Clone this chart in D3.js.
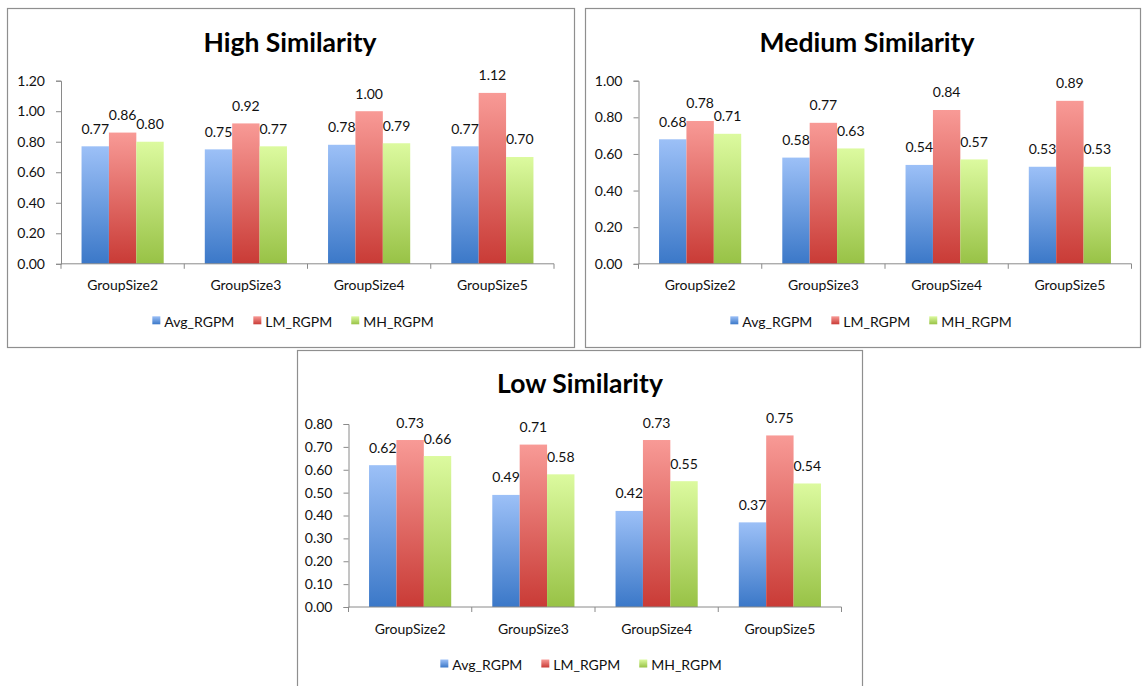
<!DOCTYPE html>
<html>
<head>
<meta charset="utf-8">
<script src="https://cdn.jsdelivr.net/npm/d3@7"></script>
<style>
  html, body { margin: 0; padding: 0; background: #ffffff; }
  svg { display: block; }
  text { font-family: Lato, "Open Sans", sans-serif; fill: #111; }
</style>
</head>
<body>
<svg id="chart" width="1148" height="686"></svg>
<script>
// ---------- data ----------
const categories = ["GroupSize2", "GroupSize3", "GroupSize4", "GroupSize5"];
const seriesNames = ["Avg_RGPM", "LM_RGPM", "MH_RGPM"];

const highAvg = [0.77, 0.75, 0.78, 0.77];
const highLM  = [0.86, 0.92, 1.00, 1.12];
const highMH  = [0.80, 0.77, 0.79, 0.70];

const mediumAvg = [0.68, 0.58, 0.54, 0.53];
const mediumLM  = [0.78, 0.77, 0.84, 0.89];
const mediumMH  = [0.71, 0.63, 0.57, 0.53];

const lowAvg = [0.62, 0.49, 0.42, 0.37];
const lowLM  = [0.73, 0.71, 0.73, 0.75];
const lowMH  = [0.66, 0.58, 0.55, 0.54];

const highTicks   = [0, 0.2, 0.4, 0.6, 0.8, 1.0, 1.2];
const mediumTicks = [0, 0.2, 0.4, 0.6, 0.8, 1.0];
const lowTicks    = [0, 0.1, 0.2, 0.3, 0.4, 0.5, 0.6, 0.7, 0.8];

const titles = ["High Similarity", "Medium Similarity", "Low Similarity"];

// ---------- layout / style ----------
const gradStops = [
  ["#9cc0f7", "#3b78c8"],
  ["#f89a96", "#c93b36"],
  ["#dcfa9f", "#98c246"]
];

const panels = [
  { title: titles[0], series: [highAvg, highLM, highMH], ticks: highTicks, yMax: 1.2,
    box: [7, 8, 574, 347], x0: 61, x1: 554, yTop: 80.7, yBot: 263.8,
    titleX: 290, titleY: 52, legendCX: 293 },
  { title: titles[1], series: [mediumAvg, mediumLM, mediumMH], ticks: mediumTicks, yMax: 1.0,
    box: [585, 8, 1140, 347], x0: 638.5, x1: 1131.5, yTop: 80.7, yBot: 263.8,
    titleX: 867, titleY: 52, legendCX: 871 },
  { title: titles[2], series: [lowAvg, lowLM, lowMH], ticks: lowTicks, yMax: 0.8,
    box: [297, 350, 862, 692], x0: 348.5, x1: 841.5, yTop: 424, yBot: 607,
    titleX: 580, titleY: 393, legendCX: 581 }
];

const svg = d3.select("#chart");
const defs = svg.append("defs");
gradStops.forEach((s, i) => {
  const g = defs.append("linearGradient").attr("id", "grad" + i)
    .attr("x1", 0).attr("y1", 0).attr("x2", 0).attr("y2", 1);
  g.append("stop").attr("offset", "0%").attr("stop-color", s[0]);
  g.append("stop").attr("offset", "100%").attr("stop-color", s[1]);
});

panels.forEach(p => {
  const g = svg.append("g");
  const [bx0, by0, bx1, by1] = p.box;
  g.append("rect").attr("x", bx0 + 0.5).attr("y", by0 + 0.5)
    .attr("width", bx1 - bx0).attr("height", by1 - by0)
    .attr("fill", "#fff").attr("stroke", "#8f8f8f").attr("stroke-width", 1.2);

  g.append("text").attr("x", p.titleX).attr("y", p.titleY)
    .attr("text-anchor", "middle").attr("font-weight", "bold")
    .attr("font-size", "26.5px").style("fill", "#000").text(p.title);

  const x = d3.scaleBand().domain(categories).range([p.x0, p.x1]).paddingInner(0).paddingOuter(0);
  const xs = d3.scaleBand().domain(seriesNames).range([0, x.bandwidth()]).paddingInner(0).paddingOuter(0.75);
  const y = d3.scaleLinear().domain([0, p.yMax]).range([p.yBot, p.yTop]);

  // y axis
  const yAxis = d3.axisLeft(y).tickValues(p.ticks).tickFormat(d3.format(".2f")).tickSize(5).tickPadding(11);
  const ya = g.append("g").attr("transform", `translate(${p.x0},0)`).call(yAxis);
  ya.select(".domain").attr("stroke", "#8a8a8a");
  ya.selectAll(".tick line").attr("stroke", "#8a8a8a");
  ya.selectAll(".tick text").attr("font-size", "14px").style("font-family", "Lato, sans-serif").style("fill", "#111");

  // bars
  seriesNames.forEach((s, si) => {
    g.append("g").selectAll("rect").data(categories).join("rect")
      .attr("x", c => x(c) + xs(s))
      .attr("y", (c, ci) => y(p.series[si][ci]))
      .attr("width", xs.bandwidth())
      .attr("height", (c, ci) => y(0) - y(p.series[si][ci]))
      .attr("fill", `url(#grad${si})`);
  });

  // x axis
  const xa = g.append("g").attr("transform", `translate(0,${p.yBot})`);
  xa.append("line").attr("x1", p.x0).attr("x2", p.x1).attr("y1", 0).attr("y2", 0).attr("stroke", "#8a8a8a");
  const bounds = categories.map(c => x(c)).concat([p.x1]);
  xa.selectAll("line.tk").data(bounds).join("line").attr("class", "tk")
    .attr("x1", d => d).attr("x2", d => d).attr("y1", 0).attr("y2", 5).attr("stroke", "#8a8a8a");
  xa.selectAll("text").data(categories).join("text")
    .attr("x", c => x(c) + x.bandwidth() / 2).attr("y", 26.5)
    .attr("text-anchor", "middle").attr("font-size", "14px").text(c => c);

  // data labels
  seriesNames.forEach((s, si) => {
    g.append("g").selectAll("text").data(categories).join("text")
      .attr("x", c => x(c) + xs(s) + xs.bandwidth() / 2)
      .attr("y", (c, ci) => y(p.series[si][ci]) - 12.5)
      .attr("text-anchor", "middle").attr("font-size", "14px")
      .text((c, ci) => d3.format(".2f")(p.series[si][ci]));
  });

  // legend
  const leg = g.append("g");
  const items = leg.selectAll("g").data(seriesNames).join("g");
  items.append("rect").attr("width", 8).attr("height", 8).attr("y", -10.5)
    .attr("fill", (d, i) => `url(#grad${i})`);
  items.append("text").attr("x", 12).attr("y", 0).attr("font-size", "14px").text(d => d);
  let cx = 0;
  items.each(function() {
    const w = this.getBBox().width;
    d3.select(this).attr("transform", `translate(${cx},0)`);
    cx += w + 19;
  });
  const total = cx - 19;
  leg.attr("transform", `translate(${p.legendCX - total / 2},${p.yBot + 63})`);
});
</script>
</body>
</html>
